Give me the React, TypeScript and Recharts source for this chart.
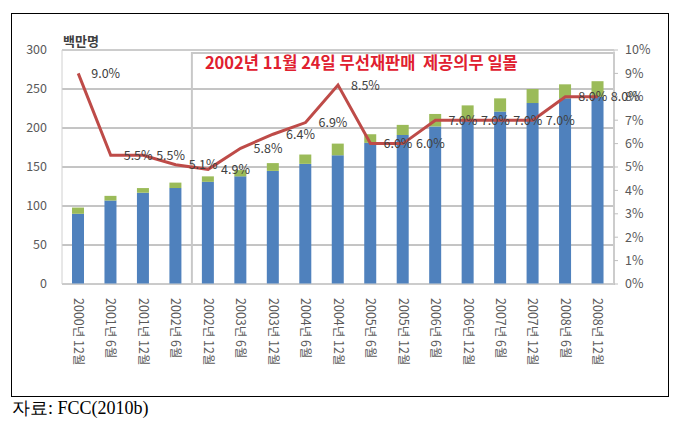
import React from "react";
import {
  ComposedChart,
  Bar,
  Line,
  XAxis,
  YAxis,
  CartesianGrid,
  ReferenceArea,
  ReferenceLine,
  LabelList,
} from "recharts";

const periods = [
  "2000년 12월", "2001년 6월", "2001년 12월", "2002년 6월", "2002년 12월",
  "2003년 6월", "2003년 12월", "2004년 6월", "2004년 12월", "2005년 6월",
  "2005년 12월", "2006년 6월", "2006년 12월", "2007년 6월", "2007년 12월",
  "2008년 6월", "2008년 12월",
];
// 백만명 (stacked parts)
const baseSubs = [90, 107, 117, 123, 131, 138, 145, 154, 165, 181, 191, 202, 211, 221, 232, 238, 240];
const resaleSubs = [8, 6, 6, 7, 7, 8, 10, 12, 15, 11, 13, 16, 18, 17, 18, 18, 20];
// share, %
const resaleShare = [9.0, 5.5, 5.5, 5.1, 4.9, 5.8, 6.4, 6.9, 8.5, 6.0, 6.0, 7.0, 7.0, 7.0, 7.0, 8.0, 8.0];

const leftTicks = [0, 50, 100, 150, 200, 250, 300];
const rightTicks = [0, 1, 2, 3, 4, 5, 6, 7, 8, 9, 10];

const data = periods.map((p, i) => ({
  period: p,
  base: baseSubs[i],
  resale: resaleSubs[i],
  share: resaleShare[i],
}));

const FONT = "'Noto Sans CJK KR', 'Noto Sans', sans-serif";
const TITLE = "2002년 11월 24일 무선재판매\u00a0 제공의무 일몰";

function PeriodTick(props: any) {
  const { x, y, payload } = props;
  return (
    <text
      transform={`translate(${x},${y}) rotate(90)`}
      x={0}
      y={0}
      dy="0.35em"
      textAnchor="start"
      fontSize={12.5}
      fill="#595959"
      fontFamily={FONT}
    >
      {payload.value}
    </text>
  );
}

function TitleLabel(props: any) {
  const { viewBox } = props;
  return (
    <text
      x={viewBox.x + 13}
      y={viewBox.y + 9}
      dominantBaseline="central"
      fill="#e0202f"
      fontSize={16.5}
      fontWeight={700}
      fontFamily={FONT}
    >
      {TITLE}
    </text>
  );
}

export default function App() {
  return (
    <div style={{ position: "absolute", left: 0, top: 0, width: 681, height: 444, background: "#fff" }}>
      <div
        style={{
          position: "absolute",
          left: 11,
          top: 13,
          width: 656,
          height: 382,
          border: "1px solid #000",
        }}
      />
      <div style={{ position: "absolute", left: 0, top: 0 }}>
        <ComposedChart
          width={681}
          height={400}
          data={data}
          margin={{ top: 50, right: 17, bottom: 16, left: 12 }}
          barSize={12}
          style={{ fontFamily: FONT }}
        >
          <CartesianGrid vertical={false} stroke="#8a8a8a" yAxisId="left" />
          <XAxis
            dataKey="period"
            interval={0}
            height={100}
            tick={<PeriodTick />}
            tickLine={false}
            tickSize={6}
            tickMargin={8}
            axisLine={{ stroke: "#d0d0d0" }}
          />
          <YAxis
            yAxisId="left"
            domain={[0, 300]}
            ticks={leftTicks}
            width={50}
            tickLine={false}
            tickSize={6}
            tickMargin={9}
            axisLine={{ stroke: "#d0d0d0" }}
            tick={{ fontSize: 12.5, fill: "#595959", fontFamily: FONT }}
          />
          <YAxis
            yAxisId="right"
            orientation="right"
            domain={[0, 10]}
            ticks={rightTicks}
            width={50}
            tickSize={4}
            tickMargin={7}
            tickLine={{ stroke: "#bfbfbf" }}
            axisLine={{ stroke: "#d0d0d0" }}
            tickFormatter={(v) => `${v}%`}
            tick={{ fontSize: 12.5, fill: "#595959", fontFamily: FONT, textAnchor: "start" }}
          />
          <ReferenceLine yAxisId="left" y={300} stroke="#cfcfcf" strokeWidth={1.5} />
          <ReferenceArea
            yAxisId="left"
            x1="2002년 12월"
            x2="2008년 12월"
            y1={0}
            y2={296}
            fill="none"
            stroke="#c8c8c8"
            strokeWidth={2}
            label={<TitleLabel />}
          />
          <Bar yAxisId="left" dataKey="base" stackId="s" fill="#4f81bd" isAnimationActive={false} />
          <Bar yAxisId="left" dataKey="resale" stackId="s" fill="#9bbb59" isAnimationActive={false} />
          <Line
            yAxisId="right"
            dataKey="share"
            type="linear"
            stroke="#be4b48"
            strokeWidth={3}
            dot={false}
            isAnimationActive={false}
          >
            <LabelList
              dataKey="share"
              position="right"
              offset={13}
              fontSize={12.5}
              fill="#404040"
              fontFamily={FONT}
              formatter={(v: any) => `${Number(v).toFixed(1)}%`}
            />
          </Line>
        </ComposedChart>
      </div>
      <div
        style={{
          position: "absolute",
          left: 63,
          top: 33,
          fontSize: 13,
          fontWeight: 700,
          color: "#404040",
          fontFamily: FONT,
          lineHeight: "16px",
        }}
      >
        백만명
      </div>
      <div
        style={{
          position: "absolute",
          left: 12,
          top: 397,
          fontSize: 18,
          color: "#000",
          fontFamily: "'Liberation Serif', 'Times New Roman', serif",
          lineHeight: "22px",
        }}
      >
        자료: FCC(2010b)
      </div>
    </div>
  );
}
